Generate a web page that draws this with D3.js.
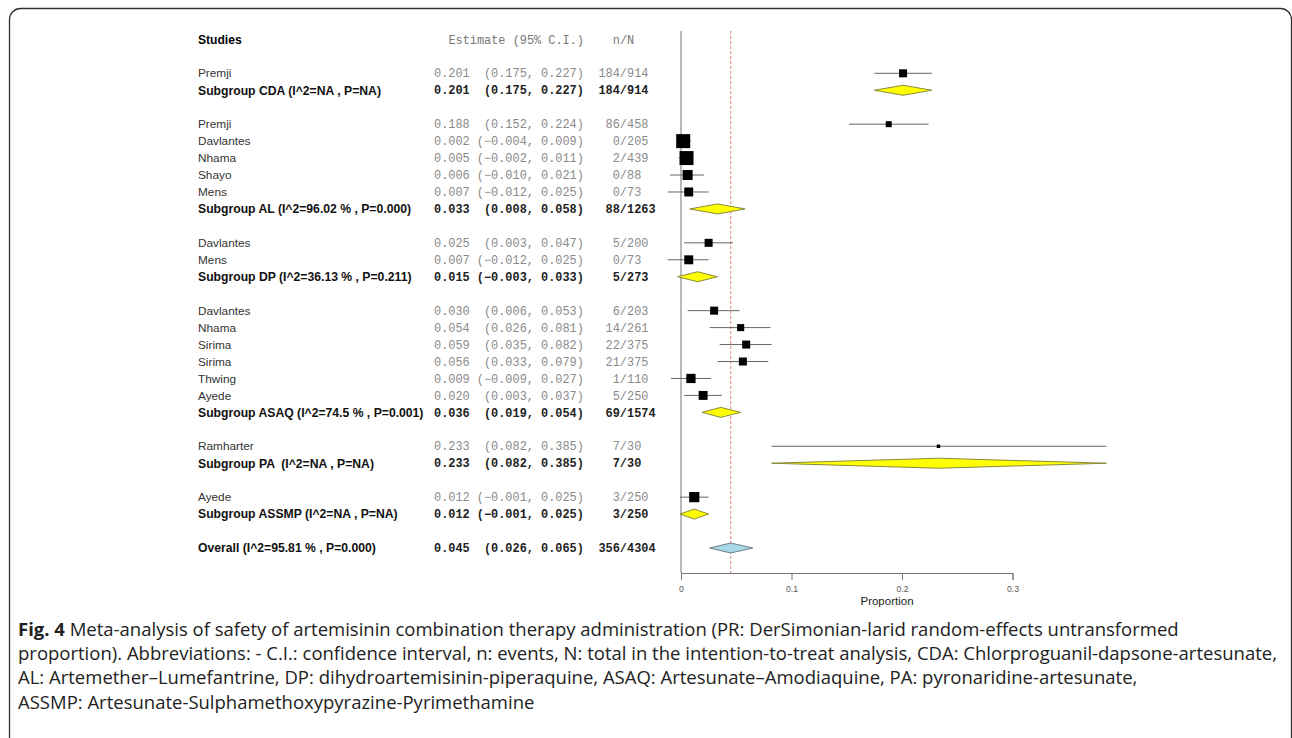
<!DOCTYPE html>
<html>
<head>
<meta charset="utf-8">
<script src="https://cdn.jsdelivr.net/npm/d3@7"></script>
<style>
  body { margin: 0; background: #fff; }
  svg { display: block; }
  .pre { white-space: pre; }
</style>
</head>
<body>
<div id="chart"></div>
<script>
/* Data */
const groups = ["CDA", "AL", "DP", "ASAQ", "PA", "ASSMP"]
const groupLabels = [
  "Subgroup CDA (I^2=NA , P=NA)",
  "Subgroup AL (I^2=96.02 % , P=0.000)",
  "Subgroup DP (I^2=36.13 % , P=0.211)",
  "Subgroup ASAQ (I^2=74.5 % , P=0.001)",
  "Subgroup PA  (I^2=NA , P=NA)",
  "Subgroup ASSMP (I^2=NA , P=NA)"
]
const groupEst = [0.201, 0.033, 0.015, 0.036, 0.233, 0.012]
const groupLo = [0.175, 0.008, -0.003, 0.019, 0.082, -0.001]
const groupHi = [0.227, 0.058, 0.033, 0.054, 0.385, 0.025]
const groupEvents = [184, 88, 5, 69, 7, 3]
const groupTotal = [914, 1263, 273, 1574, 30, 250]

const studies = ["Premji", "Premji", "Davlantes", "Nhama", "Shayo", "Mens", "Davlantes", "Mens",
  "Davlantes", "Nhama", "Sirima", "Sirima", "Thwing", "Ayede", "Ramharter", "Ayede"]
const studyGroup = ["CDA", "AL", "AL", "AL", "AL", "AL", "DP", "DP",
  "ASAQ", "ASAQ", "ASAQ", "ASAQ", "ASAQ", "ASAQ", "PA", "ASSMP"]
const studyEst = [0.201, 0.188, 0.002, 0.005, 0.006, 0.007, 0.025, 0.007,
  0.030, 0.054, 0.059, 0.056, 0.009, 0.020, 0.233, 0.012]
const studyLo = [0.175, 0.152, -0.004, -0.002, -0.010, -0.012, 0.003, -0.012,
  0.006, 0.026, 0.035, 0.033, -0.009, 0.003, 0.082, -0.001]
const studyHi = [0.227, 0.224, 0.009, 0.011, 0.021, 0.025, 0.047, 0.025,
  0.053, 0.081, 0.082, 0.079, 0.027, 0.037, 0.385, 0.025]
const studyEvents = [184, 86, 0, 2, 0, 0, 5, 0, 6, 14, 22, 21, 1, 5, 7, 3]
const studyTotal = [914, 458, 205, 439, 88, 73, 200, 73, 203, 261, 375, 375, 110, 250, 30, 250]
const studyWeight = [3.2, 1.8, 9.8, 9.8, 5.0, 4.0, 3.2, 4.0, 3.2, 2.5, 3.2, 3.2, 4.3, 4.0, 0.6, 5.2]

const overallLabel = "Overall (I^2=95.81 % , P=0.000)"
const overallEst = 0.045, overallLo = 0.026, overallHi = 0.065
const overallEvents = 356, overallTotal = 4304

const xTicks = [0, 0.1, 0.2, 0.3]

const caption = [
  "Meta-analysis of safety of artemisinin combination therapy administration (PR: DerSimonian-larid random-effects untransformed",
  "proportion). Abbreviations: - C.I.: confidence interval, n: events, N: total in the intention-to-treat analysis, CDA: Chlorproguanil-dapsone-artesunate,",
  "AL: Artemether\u2013Lumefantrine, DP: dihydroartemisinin-piperaquine, ASAQ: Artesunate\u2013Amodiaquine, PA: pyronaridine-artesunate,",
  "ASSMP: Artesunate-Sulphamethoxypyrazine-Pyrimethamine"
]

/* Build rows */
const rows = []
groups.forEach((g, gi) => {
  studies.forEach((s, i) => {
    if (studyGroup[i] !== g) return
    rows.push({type: "study", label: s, est: studyEst[i], lo: studyLo[i], hi: studyHi[i],
      n: studyEvents[i], N: studyTotal[i], w: studyWeight[i]})
  })
  rows.push({type: "group", label: groupLabels[gi], est: groupEst[gi], lo: groupLo[gi], hi: groupHi[gi],
    n: groupEvents[gi], N: groupTotal[gi]})
  rows.push({type: "blank"})
})
rows.push({type: "overall", label: overallLabel, est: overallEst, lo: overallLo, hi: overallHi,
  n: overallEvents, N: overallTotal})
rows.forEach((r, i) => r.i = i)

/* Dimensions */
const width = 1292, height = 738
const svg = d3.select("#chart").append("svg")
    .attr("width", width)
    .attr("height", height)

svg.append("rect")
    .attr("x", 9.5).attr("y", 8.5)
    .attr("width", 1282).attr("height", 745)
    .attr("rx", 11)
    .attr("fill", "none")
    .attr("stroke", "#333")
    .attr("stroke-width", 1.3)

/* Scales */
const xScale = d3.scaleLinear().domain([0, 0.3]).range([681, 1012.5])
const yScale = d3.scaleLinear().domain([-2, rows.length - 1]).range([39.4, 548])
const sizeScale = d3.scaleSqrt().domain([0, 9.8]).range([0, 14])

const fmt = d3.format(".3f")
const ciText = r => fmt(r.est) + " " + ("(" + fmt(r.lo) + ",").padStart(8, " ") + " " + fmt(r.hi) + ")"

const sans = "'Liberation Sans', Arial, sans-serif"
const mono = "'Liberation Mono', 'Courier New', monospace"

/* Header */
const header = svg.append("g")
header.append("text")
    .attr("x", 198).attr("y", yScale(-2)).attr("dy", "0.35em")
    .attr("font-family", sans).attr("font-size", 12.1).attr("font-weight", "bold")
    .text("Studies")
header.append("text")
    .attr("x", 584).attr("y", yScale(-2)).attr("dy", "0.35em")
    .attr("text-anchor", "end")
    .attr("font-family", mono).attr("font-size", 11.9).attr("fill", "#777")
    .text("Estimate (95% C.I.)")
header.append("text")
    .attr("x", 623.5).attr("y", yScale(-2)).attr("dy", "0.35em")
    .attr("text-anchor", "middle")
    .attr("font-family", mono).attr("font-size", 11.9).attr("fill", "#777")
    .text("n/N")

/* Text columns */
const textRows = rows.filter(r => r.type !== "blank")
const tg = svg.append("g").selectAll("g").data(textRows).join("g")
    .attr("transform", r => `translate(0,${yScale(r.i)})`)

const isStudy = r => r.type === "study"

tg.append("text")
    .attr("class", "pre")
    .attr("x", 198).attr("dy", "0.35em")
    .attr("font-family", sans)
    .attr("font-size", r => isStudy(r) ? 11.8 : 12.2)
    .attr("font-weight", r => isStudy(r) ? "normal" : "bold")
    .attr("fill", r => isStudy(r) ? "#333" : "#111")
    .text(r => r.label)

tg.append("text")
    .attr("class", "pre")
    .attr("x", 434).attr("dy", "0.35em")
    .attr("font-family", mono).attr("font-size", 11.9)
    .attr("font-weight", r => isStudy(r) ? "normal" : "bold")
    .attr("fill", r => isStudy(r) ? "#8a8a8a" : "#222")
    .text(ciText)

tg.append("text")
    .attr("x", 627).attr("dy", "0.35em")
    .attr("text-anchor", "end")
    .attr("font-family", mono).attr("font-size", 11.9)
    .attr("font-weight", r => isStudy(r) ? "normal" : "bold")
    .attr("fill", r => isStudy(r) ? "#8a8a8a" : "#222")
    .text(r => r.n + "/")

tg.append("text")
    .attr("x", 627).attr("dy", "0.35em")
    .attr("font-family", mono).attr("font-size", 11.9)
    .attr("font-weight", r => isStudy(r) ? "normal" : "bold")
    .attr("fill", r => isStudy(r) ? "#8a8a8a" : "#222")
    .text(r => r.N)

/* Reference lines */
const plotTop = 31, axisY = 573
svg.append("line")
    .attr("x1", xScale(0)).attr("x2", xScale(0))
    .attr("y1", plotTop).attr("y2", axisY)
    .attr("stroke", "#8c8c8c").attr("stroke-width", 1.2)

svg.append("line")
    .attr("x1", xScale(overallEst)).attr("x2", xScale(overallEst))
    .attr("y1", plotTop).attr("y2", axisY)
    .attr("stroke", "#d9826f").attr("stroke-width", 1)
    .attr("stroke-dasharray", "3 2")

/* Study marks */
const studyRows = rows.filter(isStudy)
const sg = svg.append("g").selectAll("g").data(studyRows).join("g")
    .attr("transform", r => `translate(0,${yScale(r.i)})`)

sg.append("line")
    .attr("x1", r => xScale(r.lo)).attr("x2", r => xScale(r.hi))
    .attr("stroke", "#666").attr("stroke-width", 1)

sg.append("rect")
    .attr("x", r => xScale(r.est) - sizeScale(r.w) / 2)
    .attr("y", r => -sizeScale(r.w) / 2)
    .attr("width", r => sizeScale(r.w))
    .attr("height", r => sizeScale(r.w))
    .attr("fill", "#000")

/* Summary diamonds */
const sumRows = rows.filter(r => r.type === "group" || r.type === "overall")
svg.append("g").selectAll("path").data(sumRows).join("path")
    .attr("d", r => {
      const y = yScale(r.i), h = 5
      return `M${xScale(r.lo)},${y}L${xScale(r.est)},${y - h}L${xScale(r.hi)},${y}L${xScale(r.est)},${y + h}Z`
    })
    .attr("fill", r => r.type === "overall" ? "#a9d8e8" : "#ffff00")
    .attr("stroke", r => r.type === "overall" ? "#6f7f86" : "#8a8a3c")
    .attr("stroke-width", 1)

/* Axis */
const xAxis = svg.append("g")
    .attr("transform", `translate(0,${axisY})`)
    .call(d3.axisBottom(xScale).tickValues(xTicks).tickSize(7).tickPadding(6)
      .tickFormat(d => d === 0 ? "0" : d3.format(".1f")(d)))
xAxis.select(".domain").attr("stroke", "#777")
xAxis.selectAll(".tick line").attr("stroke", "#777")
xAxis.selectAll(".tick text")
    .attr("font-family", sans).attr("font-size", 8.6).attr("fill", "#555")

svg.append("text")
    .attr("x", 887).attr("y", 601).attr("dy", "0.35em")
    .attr("text-anchor", "middle")
    .attr("font-family", sans).attr("font-size", 11.5).attr("fill", "#222")
    .text("Proportion")

/* Caption */
const cap = svg.append("g")
    .attr("font-family", "'Open Sans', 'Noto Sans', sans-serif")
    .attr("font-size", 18.5)
    .attr("fill", "#222")
cap.selectAll("text").data(caption).join("text")
    .attr("x", 18)
    .attr("y", (d, i) => 635.5 + i * 24.4)
    .each(function(d, i) {
      const t = d3.select(this)
      if (i === 0) t.append("tspan").attr("font-weight", "bold").text("Fig. 4 ")
      t.append("tspan").text(d)
    })
</script>
</body>
</html>
